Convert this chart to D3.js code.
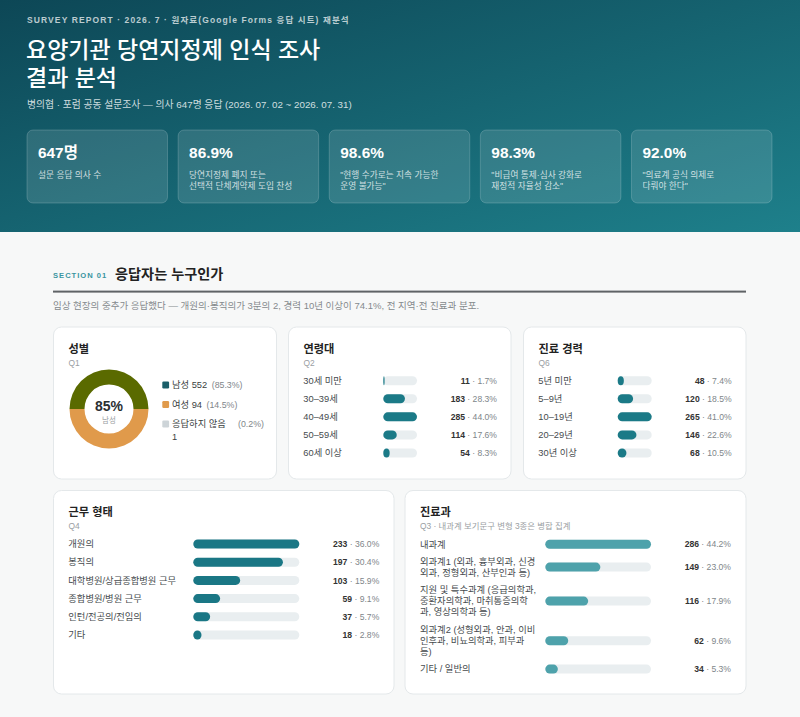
<!DOCTYPE html>
<html>
<head>
<meta charset="utf-8">
<script src="https://cdn.jsdelivr.net/npm/d3@7"></script>
<style>
  body { margin: 0; background: #f7f8f8; }
  svg { display: block; font-family: "Liberation Sans", "Noto Sans CJK KR", sans-serif; }
</style>
</head>
<body>
<svg id="chart" width="800" height="717"></svg>
<script>
// ---- data ----
var kpiValues = ["647명", "86.9%", "98.6%", "98.3%", "92.0%"];
var kpiLabels = [
    ["설문 응답 의사 수"],
    ["당연지정제 폐지 또는", "선택적 단체계약제 도입 찬성"],
    ["\"현행 수가로는 지속 가능한", "운영 불가능\""],
    ["\"비급여 통제·심사 강화로", "재정적 자율성 감소\""],
    ["\"의료계 공식 의제로", "다뤄야 한다\""]
];

var genderLabels = ["남성", "여성", "응답하지 않음"];
var genderCounts = [552, 94, 1];
var genderPct = [85.3, 14.5, 0.2];
// the ring as it is drawn in the reference: upper half olive, lower half orange
var ringShares = [50, 50];

var ageLabels = ["30세 미만", "30–39세", "40–49세", "50–59세", "60세 이상"];
var ageCounts = [11, 183, 285, 114, 54];
var agePct = [1.7, 28.3, 44.0, 17.6, 8.3];

var careerLabels = ["5년 미만", "5–9년", "10–19년", "20–29년", "30년 이상"];
var careerCounts = [48, 120, 265, 146, 68];
var careerPct = [7.4, 18.5, 41.0, 22.6, 10.5];

var workLabels = ["개원의", "봉직의", "대학병원/상급종합병원 근무", "종합병원/병원 근무", "인턴/전공의/전임의", "기타"];
var workCounts = [233, 197, 103, 59, 37, 18];
var workPct = [36.0, 30.4, 15.9, 9.1, 5.7, 2.8];

var deptLabels = [
    "내과계",
    "외과계1 (외과, 흉부외과, 신경외과, 정형외과, 산부인과 등)",
    "지원 및 특수과계 (응급의학과, 중환자의학과, 마취통증의학과, 영상의학과 등)",
    "외과계2 (성형외과, 안과, 이비인후과, 비뇨의학과, 피부과 등)",
    "기타 / 일반의"
];
var deptCounts = [286, 149, 116, 62, 34];
var deptPct = [44.2, 23.0, 17.9, 9.6, 5.3];

// ---- drawing ----
var W = 800, H = 717;
var LBL = 9.3;   // row label size
var svg = d3.select("#chart");
var fmtPct = d3.format(".1f");

var defs = svg.append("defs");
var grad = defs.append("linearGradient").attr("id", "hdr")
    .attr("x1", 0).attr("y1", 0).attr("x2", 1).attr("y2", 1);
grad.append("stop").attr("offset", "0%").attr("stop-color", "#0d4756");
grad.append("stop").attr("offset", "100%").attr("stop-color", "#1e808b");

svg.append("rect").attr("width", W).attr("height", H).attr("fill", "#f7f8f8");
svg.append("rect").attr("width", W).attr("height", 232).attr("fill", "url(#hdr)");

var measurer = svg.append("text").attr("x", -1000).attr("y", -1000);
function measure(str, size, weight) {
    measurer.attr("font-size", size).attr("font-weight", weight || "normal").text(str);
    return measurer.node().getComputedTextLength();
}

// break text roughly the way the browser does for Korean (between syllables and at spaces)
function wrapText(str, size, maxW) {
    var tokens = [];
    Array.from(str).forEach(function(ch) {
        var last = tokens[tokens.length - 1];
        if (ch === " ") {
            tokens.push(" ");
        } else if (/[,.)·]/.test(ch) && last && last !== " ") {
            tokens[tokens.length - 1] = last + ch;
        } else if (last && last !== " " && /\($/.test(last)) {
            tokens[tokens.length - 1] = last + ch;
        } else if (/[A-Za-z0-9]/.test(ch) && last && /[A-Za-z0-9(]$/.test(last)) {
            tokens[tokens.length - 1] = last + ch;
        } else {
            tokens.push(ch);
        }
    });
    var lines = [];
    var cur = "";
    tokens.forEach(function(t) {
        if (t === " ") {
            if (cur !== "") cur += " ";
            return;
        }
        var test = cur + t;
        if (cur !== "" && measure(test.replace(/\s+$/, ""), size) > maxW) {
            lines.push(cur.replace(/\s+$/, ""));
            cur = t;
        } else {
            cur = test;
        }
    });
    if (cur !== "") lines.push(cur.replace(/\s+$/, ""));
    return lines;
}

// header
var head = svg.append("g");
head.append("text").attr("x", 27).attr("y", 23)
    .attr("font-size", 8.5).attr("font-weight", "bold").attr("letter-spacing", 1.1)
    .attr("fill", "rgba(255,255,255,0.72)")
    .text("SURVEY REPORT · 2026. 7 · 원자료(Google Forms 응답 시트) 재분석");
head.selectAll("text.title")
    .data(["요양기관 당연지정제 인식 조사", "결과 분석"])
    .enter().append("text").attr("class", "title")
    .attr("x", 26).attr("y", function(d, i) { return 58 + i * 28; })
    .attr("font-size", 23).attr("font-weight", 500).attr("fill", "#ffffff")
    .text(function(d) { return d; });
head.append("text").attr("x", 27).attr("y", 107.5)
    .attr("font-size", 9.8).attr("fill", "rgba(255,255,255,0.8)")
    .text("병의협 · 포럼 공동 설문조사 — 의사 647명 응답 (2026. 07. 02 ~ 2026. 07. 31)");

var kpiX = d3.scaleBand().domain(d3.range(kpiValues.length)).range([27, 772]).paddingInner(0.07);
var kpi = head.selectAll("g.kpi").data(kpiValues).enter().append("g").attr("class", "kpi")
    .attr("transform", function(d, i) { return "translate(" + kpiX(i) + ",130)"; });
kpi.append("rect").attr("width", kpiX.bandwidth()).attr("height", 73).attr("rx", 6)
    .attr("fill", "rgba(255,255,255,0.12)").attr("stroke", "rgba(255,255,255,0.18)");
kpi.append("text").attr("x", 11).attr("y", 28)
    .attr("font-size", 15.4).attr("font-weight", "bold").attr("fill", "#ffffff")
    .text(function(d) { return d; });
kpi.each(function(d, i) {
    d3.select(this).selectAll("text.lbl").data(kpiLabels[i]).enter().append("text")
        .attr("class", "lbl").attr("x", 11).attr("y", function(s, j) { return 47.5 + j * 11.7; })
        .attr("font-size", 8.7).attr("fill", "rgba(255,255,255,0.78)")
        .text(function(s) { return s; });
});

// section heading
svg.append("text").attr("x", 53).attr("y", 277.8)
    .attr("font-size", 7.6).attr("font-weight", "bold").attr("letter-spacing", 1)
    .attr("fill", "#3a95a1").text("SECTION 01");
svg.append("text").attr("x", 115).attr("y", 279.3)
    .attr("font-size", 14.2).attr("font-weight", "bold").attr("fill", "#222")
    .text("응답자는 누구인가");
svg.append("rect").attr("x", 53).attr("y", 290.6).attr("width", 693).attr("height", 2)
    .attr("fill", "#5f6366");
svg.append("text").attr("x", 53).attr("y", 309)
    .attr("font-size", 9.5).attr("fill", "#858a8d")
    .text("임상 현장의 중추가 응답했다 — 개원의·봉직의가 3분의 2, 경력 10년 이상이 74.1%, 전 지역·전 진료과 분포.");

function card(x, y, w, h, title, sub) {
    var g = svg.append("g").attr("transform", "translate(" + x + "," + y + ")");
    g.append("rect").attr("width", w).attr("height", h).attr("rx", 8)
        .attr("fill", "#ffffff").attr("stroke", "#e4e8ea");
    g.append("text").attr("x", 15).attr("y", 25.5)
        .attr("font-size", 11.2).attr("font-weight", "bold").attr("fill", "#222").text(title);
    g.append("text").attr("x", 15).attr("y", 38.6)
        .attr("font-size", 8.4).attr("fill", "#9aa0a3").text(sub);
    return g;
}

function valueText(g, x, y, count, pct) {
    var t = g.append("text").attr("x", x).attr("y", y).attr("text-anchor", "end")
        .attr("font-size", 8.6);
    t.append("tspan").attr("font-weight", "bold").attr("fill", "#333").text(count);
    t.append("tspan").attr("fill", "#80868a").text(" · " + fmtPct(pct) + "%");
}

function barRows(g, o) {
    var x = d3.scaleLinear().domain([0, d3.max(o.counts)]).range([0, o.trackW]);
    var rows = g.selectAll("g.row").data(o.labels).enter().append("g").attr("class", "row")
        .attr("transform", function(d, i) { return "translate(0," + o.y(i) + ")"; });
    rows.each(function(d, i) {
        var r = d3.select(this);
        var lines = o.wrap ? wrapText(d, LBL, o.wrap) : [d];
        r.selectAll("text.lbl").data(lines).enter().append("text").attr("class", "lbl")
            .attr("x", o.labelX)
            .attr("y", function(s, j) { return (j - (lines.length - 1) / 2) * o.lineH + 3.2; })
            .attr("font-size", LBL).attr("fill", "#464b4e")
            .text(function(s) { return s; });
        r.append("rect").attr("x", o.trackX).attr("y", -4.5).attr("width", o.trackW).attr("height", 9)
            .attr("rx", 4.5).attr("fill", "#e9eef0");
        r.append("rect").attr("x", o.trackX).attr("y", -4.5).attr("width", x(o.counts[i])).attr("height", 9)
            .attr("rx", 4.5).attr("fill", o.fill);
        valueText(r, o.valueX, 3.1, o.counts[i], o.pcts[i]);
    });
}

// card 1: gender donut
var c1 = card(53.5, 327, 223, 152, "성별", "Q1");
var pie = d3.pie().sort(null).startAngle(-Math.PI / 2).endAngle(1.5 * Math.PI);
var arc = d3.arc().innerRadius(24.5).outerRadius(39.5);
var ringColors = ["#5a6a00", "#e09a4b"];
var donut = c1.append("g").attr("transform", "translate(55.5,82)");
donut.selectAll("path").data(pie(ringShares)).enter().append("path")
    .attr("d", arc).attr("fill", function(d, i) { return ringColors[i]; });
donut.append("text").attr("y", 1.5).attr("text-anchor", "middle")
    .attr("font-size", 14).attr("font-weight", "bold").attr("fill", "#2b2f31")
    .text(d3.format(".0f")(genderPct[0]) + "%");
donut.append("text").attr("y", 13.5).attr("text-anchor", "middle")
    .attr("font-size", 7.5).attr("fill", "#9aa0a3").text(genderLabels[0]);

var legendColors = ["#1a5e69", "#e09a4b", "#cdd4d8"];
var legY = d3.scalePoint().domain(d3.range(genderLabels.length)).range([58, 97]);
genderLabels.forEach(function(name, i) {
    var y = legY(i);
    var lg = c1.append("g").attr("transform", "translate(0," + y + ")");
    lg.append("rect").attr("x", 108.8).attr("y", -3.4).attr("width", 6.8).attr("height", 6.8)
        .attr("rx", 1.2).attr("fill", legendColors[i]);
    var label = name + " " + genderCounts[i];
    var w = measure(label, LBL);
    var maxW = 60;
    var lines = w > maxW ? [name, String(genderCounts[i])] : [label];
    lg.selectAll("text.nm").data(lines).enter().append("text").attr("class", "nm")
        .attr("x", 118.5).attr("y", function(s, j) { return 3.2 + j * 12.6; })
        .attr("font-size", LBL).attr("fill", "#3a3f42").text(function(s) { return s; });
    var px = lines.length > 1 ? 118.5 + maxW + 6 : 118.5 + w + 4.5;
    lg.append("text").attr("x", px).attr("y", 3.2)
        .attr("font-size", 8.8).attr("fill", "#80868a")
        .text("(" + fmtPct(genderPct[i]) + "%)");
});

// card 2: age
var c2 = card(288.5, 327, 222.5, 152, "연령대", "Q2");
barRows(c2, {
    labels: ageLabels, counts: ageCounts, pcts: agePct,
    y: d3.scalePoint().domain(d3.range(ageLabels.length)).range([53.7, 126]),
    labelX: 14.8, trackX: 94.8, trackW: 33.7, valueX: 208.5, fill: "#1b7a87", lineH: 11.2
});

// card 3: career
var c3 = card(523.5, 327, 222.5, 152, "진료 경력", "Q6");
barRows(c3, {
    labels: careerLabels, counts: careerCounts, pcts: careerPct,
    y: d3.scalePoint().domain(d3.range(careerLabels.length)).range([53.7, 126]),
    labelX: 14.8, trackX: 94.2, trackW: 34, valueX: 208.2, fill: "#1b7a87", lineH: 11.2
});

// card 4: work type
var c4 = card(53.5, 490.5, 340.5, 203.5, "근무 형태", "Q4");
barRows(c4, {
    labels: workLabels, counts: workCounts, pcts: workPct,
    y: d3.scalePoint().domain(d3.range(workLabels.length)).range([53.5, 144.5]),
    labelX: 14.8, trackX: 139.8, trackW: 106, valueX: 325.8, fill: "#1a7785", lineH: 11.2
});

// card 5: department (rows grow with wrapped labels)
var c5 = card(405, 490.5, 341, 203.5, "진료과", "Q3 · 내과계 보기문구 변형 3종은 병합 집계");
var deptLineH = 11.2, deptGap = 6;
// label column width: just wide enough for the longest line the reference keeps whole
var deptWrapW = measure("지원 및 특수과계 (응급의학과,", LBL) + 0.8;
var deptCenters = [];
var top5 = 48.2;
deptLabels.forEach(function(d) {
    var n = wrapText(d, LBL, deptWrapW).length;
    deptCenters.push(top5 + n * deptLineH / 2);
    top5 += n * deptLineH + deptGap;
});
barRows(c5, {
    labels: deptLabels, counts: deptCounts, pcts: deptPct,
    y: function(i) { return deptCenters[i]; },
    labelX: 15, trackX: 140.3, trackW: 105.7, valueX: 326, fill: "#4ea2ab",
    lineH: deptLineH, wrap: deptWrapW
});

measurer.remove();
</script>
</body>
</html>
